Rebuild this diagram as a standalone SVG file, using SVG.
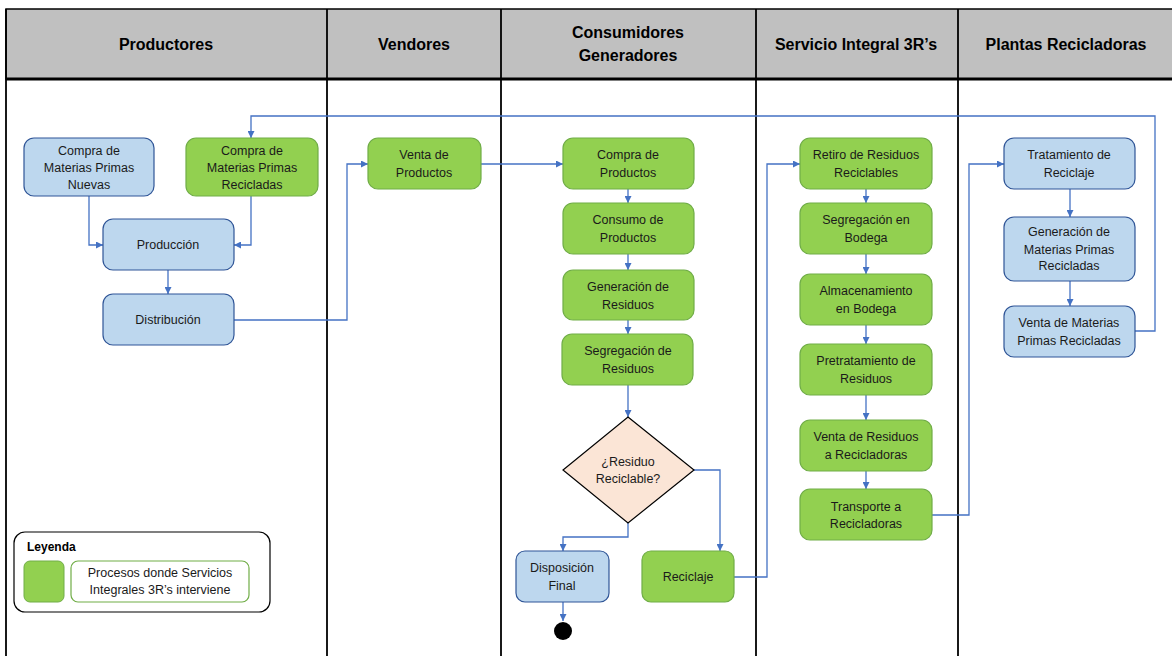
<svg xmlns="http://www.w3.org/2000/svg" width="1172" height="656" viewBox="0 0 1172 656">
<style>
.hdr{font-family:"Liberation Sans",Arial,sans-serif;font-size:16px;font-weight:bold;fill:#000;text-anchor:middle}
.t{font-family:"Liberation Sans",Arial,sans-serif;font-size:12.5px;fill:#1a1a1a;text-anchor:middle}
.blue{fill:#bdd7ee;stroke:#2f5597;stroke-width:1.2}
.green{fill:#92d050;stroke:#70ad47;stroke-width:1.2}
.c{fill:none;stroke:#4472c4;stroke-width:1.3}
.lane{stroke:#000;stroke-width:1.8}
</style>
<defs>
<marker id="a" viewBox="0 0 10 10" refX="10" refY="5" markerWidth="7" markerHeight="7" orient="auto" markerUnits="userSpaceOnUse">
<path d="M0,0 L10,5 L0,10 z" fill="#4472c4"/>
</marker>
</defs>
<rect width="1172" height="656" fill="#fff"/>
<g id="lanes">
<rect x="6" y="9" width="1170" height="70" fill="#c0c0c0" stroke="#000" stroke-width="1.5"/>
<line class="lane" x1="6" y1="9" x2="6" y2="656"/>
<line class="lane" x1="327" y1="9" x2="327" y2="656"/>
<line class="lane" x1="501" y1="9" x2="501" y2="656"/>
<line class="lane" x1="756" y1="9" x2="756" y2="656"/>
<line class="lane" x1="958" y1="9" x2="958" y2="656"/>
<line x1="6" y1="79" x2="1172" y2="79" stroke="#000" stroke-width="3"/>
<text class="hdr" x="166" y="50">Productores</text>
<text class="hdr" x="414" y="50">Vendores</text>
<text class="hdr" x="628" y="38">Consumidores</text>
<text class="hdr" x="628" y="61">Generadores</text>
<text class="hdr" x="856" y="50">Servicio Integral 3R’s</text>
<text class="hdr" x="1066" y="50">Plantas Recicladoras</text>
</g>
<g id="connectors">
<polyline class="c" points="1135,331 1155,331 1155,116 251,116 251,138" marker-end="url(#a)"/>
<polyline class="c" points="89,196 89,245 103,245" marker-end="url(#a)"/>
<polyline class="c" points="251,196 251,245 234,245" marker-end="url(#a)"/>
<line class="c" x1="168" y1="270" x2="168" y2="294" marker-end="url(#a)"/>
<polyline class="c" points="234,320 347,320 347,164 368,164" marker-end="url(#a)"/>
<line class="c" x1="481" y1="164" x2="563" y2="164" marker-end="url(#a)"/>
<line class="c" x1="628" y1="189" x2="628" y2="203" marker-end="url(#a)"/>
<line class="c" x1="628" y1="254" x2="628" y2="270" marker-end="url(#a)"/>
<line class="c" x1="628" y1="320" x2="628" y2="334" marker-end="url(#a)"/>
<line class="c" x1="628" y1="385" x2="628" y2="417" marker-end="url(#a)"/>
<polyline class="c" points="628,523 628,537 563,537 563,551" marker-end="url(#a)"/>
<polyline class="c" points="694,470 720,470 720,551" marker-end="url(#a)"/>
<line class="c" x1="563" y1="602" x2="563" y2="621" marker-end="url(#a)"/>
<polyline class="c" points="734,577 767,577 767,164 800,164" marker-end="url(#a)"/>
<line class="c" x1="866" y1="189" x2="866" y2="203" marker-end="url(#a)"/>
<line class="c" x1="866" y1="254" x2="866" y2="274" marker-end="url(#a)"/>
<line class="c" x1="866" y1="325" x2="866" y2="344" marker-end="url(#a)"/>
<line class="c" x1="866" y1="395" x2="866" y2="420" marker-end="url(#a)"/>
<line class="c" x1="866" y1="471" x2="866" y2="489" marker-end="url(#a)"/>
<polyline class="c" points="932,515 969,515 969,164 1004,164" marker-end="url(#a)"/>
<line class="c" x1="1070" y1="189" x2="1070" y2="217" marker-end="url(#a)"/>
<line class="c" x1="1070" y1="281" x2="1070" y2="306" marker-end="url(#a)"/>
</g>
<g id="n-compra-nuevas"><rect class="blue" x="24" y="138" width="130" height="58" rx="10"/><text class="t" x="89" y="155">Compra de</text><text class="t" x="89" y="172">Materias Primas</text><text class="t" x="89" y="189">Nuevas</text></g>
<g id="n-compra-recicladas"><rect class="green" x="186" y="138" width="132" height="58" rx="10"/><text class="t" x="252" y="155">Compra de</text><text class="t" x="252" y="172">Materias Primas</text><text class="t" x="252" y="189">Recicladas</text></g>
<g id="n-produccion"><rect class="blue" x="103" y="219" width="131" height="51" rx="10"/><text class="t" x="168" y="249">Producción</text></g>
<g id="n-distribucion"><rect class="blue" x="103" y="294" width="131" height="51" rx="10"/><text class="t" x="168" y="324">Distribución</text></g>
<g id="n-venta-productos"><rect class="green" x="368" y="138" width="113" height="51" rx="10"/><text class="t" x="424" y="159">Venta de</text><text class="t" x="424" y="177">Productos</text></g>
<g id="n-compra-productos"><rect class="green" x="563" y="138" width="131" height="51" rx="10"/><text class="t" x="628" y="159">Compra de</text><text class="t" x="628" y="177">Productos</text></g>
<g id="n-consumo"><rect class="green" x="563" y="203" width="131" height="51" rx="10"/><text class="t" x="628" y="224">Consumo de</text><text class="t" x="628" y="242">Productos</text></g>
<g id="n-generacion"><rect class="green" x="563" y="270" width="131" height="50" rx="10"/><text class="t" x="628" y="291">Generación de</text><text class="t" x="628" y="309">Residuos</text></g>
<g id="n-segregacion"><rect class="green" x="562" y="334" width="131" height="51" rx="10"/><text class="t" x="628" y="355">Segregación de</text><text class="t" x="628" y="373">Residuos</text></g>
<g id="n-decision"><polygon points="628,417 694,470 628,523 563,470" fill="#fbe5d6" stroke="#000" stroke-width="1.2"/><text class="t" x="628" y="466">¿Residuo</text><text class="t" x="628" y="483">Reciclable?</text></g>
<g id="n-disposicion"><rect class="blue" x="516" y="551" width="93" height="51" rx="9"/><text class="t" x="562" y="572">Disposición</text><text class="t" x="562" y="590">Final</text></g>
<g id="n-reciclaje"><rect class="green" x="642" y="551" width="92" height="51" rx="9"/><text class="t" x="688" y="581">Reciclaje</text></g>
<g id="n-fin"><circle cx="563" cy="631" r="9" fill="#000"/></g>
<g id="n-retiro"><rect class="green" x="800" y="138" width="132" height="51" rx="10"/><text class="t" x="866" y="159">Retiro de Residuos</text><text class="t" x="866" y="177">Reciclables</text></g>
<g id="n-seg-bodega"><rect class="green" x="800" y="203" width="132" height="51" rx="10"/><text class="t" x="866" y="224">Segregación en</text><text class="t" x="866" y="242">Bodega</text></g>
<g id="n-almacenamiento"><rect class="green" x="800" y="274" width="132" height="51" rx="10"/><text class="t" x="866" y="295">Almacenamiento</text><text class="t" x="866" y="313">en Bodega</text></g>
<g id="n-pretratamiento"><rect class="green" x="800" y="344" width="132" height="51" rx="10"/><text class="t" x="866" y="365">Pretratamiento de</text><text class="t" x="866" y="383">Residuos</text></g>
<g id="n-venta-residuos"><rect class="green" x="800" y="420" width="132" height="51" rx="10"/><text class="t" x="866" y="441">Venta de Residuos</text><text class="t" x="866" y="459">a Recicladoras</text></g>
<g id="n-transporte"><rect class="green" x="800" y="489" width="132" height="51" rx="10"/><text class="t" x="866" y="511">Transporte a</text><text class="t" x="866" y="528">Recicladoras</text></g>
<g id="n-tratamiento"><rect class="blue" x="1004" y="138" width="131" height="51" rx="10"/><text class="t" x="1069" y="159">Tratamiento de</text><text class="t" x="1069" y="177">Reciclaje</text></g>
<g id="n-gen-mp"><rect class="blue" x="1004" y="217" width="131" height="64" rx="10"/><text class="t" x="1069" y="236">Generación de</text><text class="t" x="1069" y="254">Materias Primas</text><text class="t" x="1069" y="270">Recicladas</text></g>
<g id="n-venta-mp"><rect class="blue" x="1004" y="306" width="131" height="51" rx="10"/><text class="t" x="1069" y="327">Venta de Materias</text><text class="t" x="1069" y="345">Primas Recicladas</text></g>
<g id="legend">
<rect x="14" y="532" width="256" height="80" rx="11" fill="#fff" stroke="#000" stroke-width="1.2"/>
<text x="27" y="551" font-family="Liberation Sans, Arial, sans-serif" font-size="12" font-weight="bold">Leyenda</text>
<rect x="24" y="561" width="40" height="41" rx="6" fill="#92d050" stroke="#70ad47"/>
<rect x="71" y="561" width="178" height="41" rx="7" fill="#fff" stroke="#70ad47" stroke-width="1.2"/>
<text class="t" x="160" y="577">Procesos donde Servicios</text>
<text class="t" x="160" y="594">Integrales 3R’s interviene</text>
</g>
</svg>
